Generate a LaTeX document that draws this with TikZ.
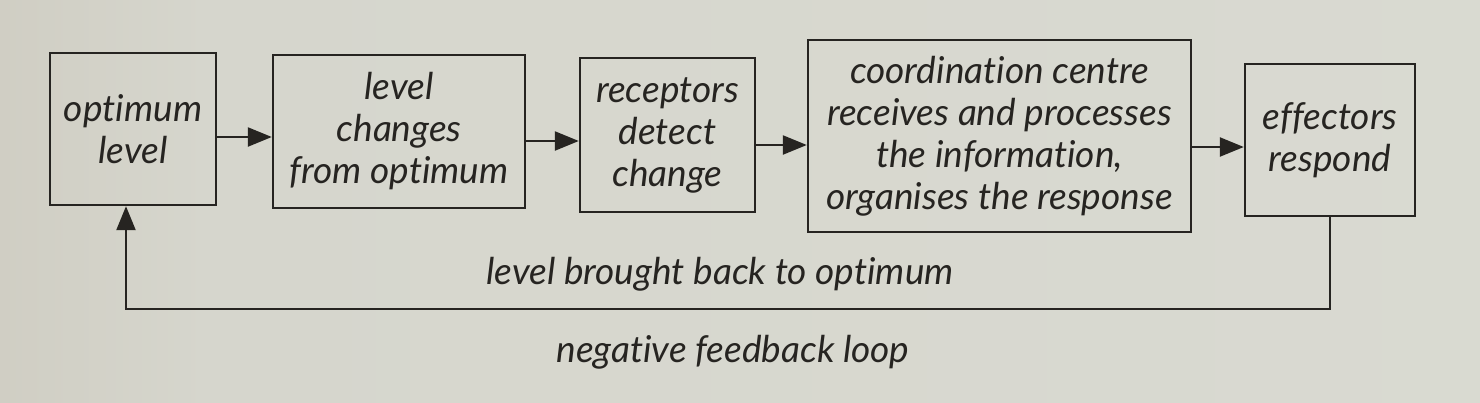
\documentclass[tikz,border=0pt]{standalone}
\usepackage{fontspec}
\setmainfont{Lato}[Ligatures=NoCommon]
\usetikzlibrary{arrows.meta}
\definecolor{ink}{RGB}{38,36,33}
\definecolor{bgA}{RGB}{112,102,86}
\definecolor{bgB}{RGB}{165,157,140}
\definecolor{bgC}{RGB}{200,196,184}
\definecolor{bgD}{RGB}{214,214,205}
\definecolor{bgE}{RGB}{219,220,212}
\pgfdeclarehorizontalshading{page}{100bp}{color(0bp)=(bgA); color(6bp)=(bgB); color(16bp)=(bgC); color(32bp)=(bgD); color(100bp)=(bgE)}
\tikzset{
  box/.style={draw=ink, line width=2.4pt, align=center, inner sep=0pt, text=ink,
    font=\fontsize{37}{42}\selectfont\itshape},
  arr/.style={draw=ink, line width=2.4pt, -{Triangle[length=24pt,width=19pt]}},
  lbl/.style={text=ink, font=\fontsize{37}{42}\selectfont\itshape}
}
\begin{document}
\begin{tikzpicture}[x=1pt,y=1pt]
\shade[shading=page] (0,0) rectangle (1480,-402);
\useasboundingbox (0,0) rectangle (1480,-402);
\node[box, minimum width=166pt, minimum height=152pt] (b1) at (133,-129) {optimum\\level};
\node[box, minimum width=252pt, minimum height=153pt] (b2) at (399,-131.5) {level\\changes\\from optimum};
\node[box, minimum width=175pt, minimum height=154pt] (b3) at (667.5,-135) {receptors\\detect\\change};
\node[box, minimum width=383pt, minimum height=192pt] (b4) at (999.5,-136) {coordination centre\\receives and processes\\the information,\\organises the response};
\node[box, minimum width=170pt, minimum height=152pt] (b5) at (1330,-140) {effectors\\respond};
\coordinate (y1) at (0,-137);
\coordinate (y2) at (0,-141);
\coordinate (y3) at (0,-145);
\coordinate (y4) at (0,-147);
\draw[arr] (b1.east |- y1) -- (b2.west |- y1);
\draw[arr] (b2.east |- y2) -- (b3.west |- y2);
\draw[arr] (b3.east |- y3) -- (b4.west |- y3);
\draw[arr] (b4.east |- y4) -- (b5.west |- y4);
\coordinate (fb) at (126,-309);
\draw[arr] (b5.south) |- (fb) -- (b1.south -| fb);
\node[lbl] (t1) at (720,-274) {level brought back to optimum};
\node[lbl] (t2) at (733,-352) {negative feedback loop};
\end{tikzpicture}
\end{document}
